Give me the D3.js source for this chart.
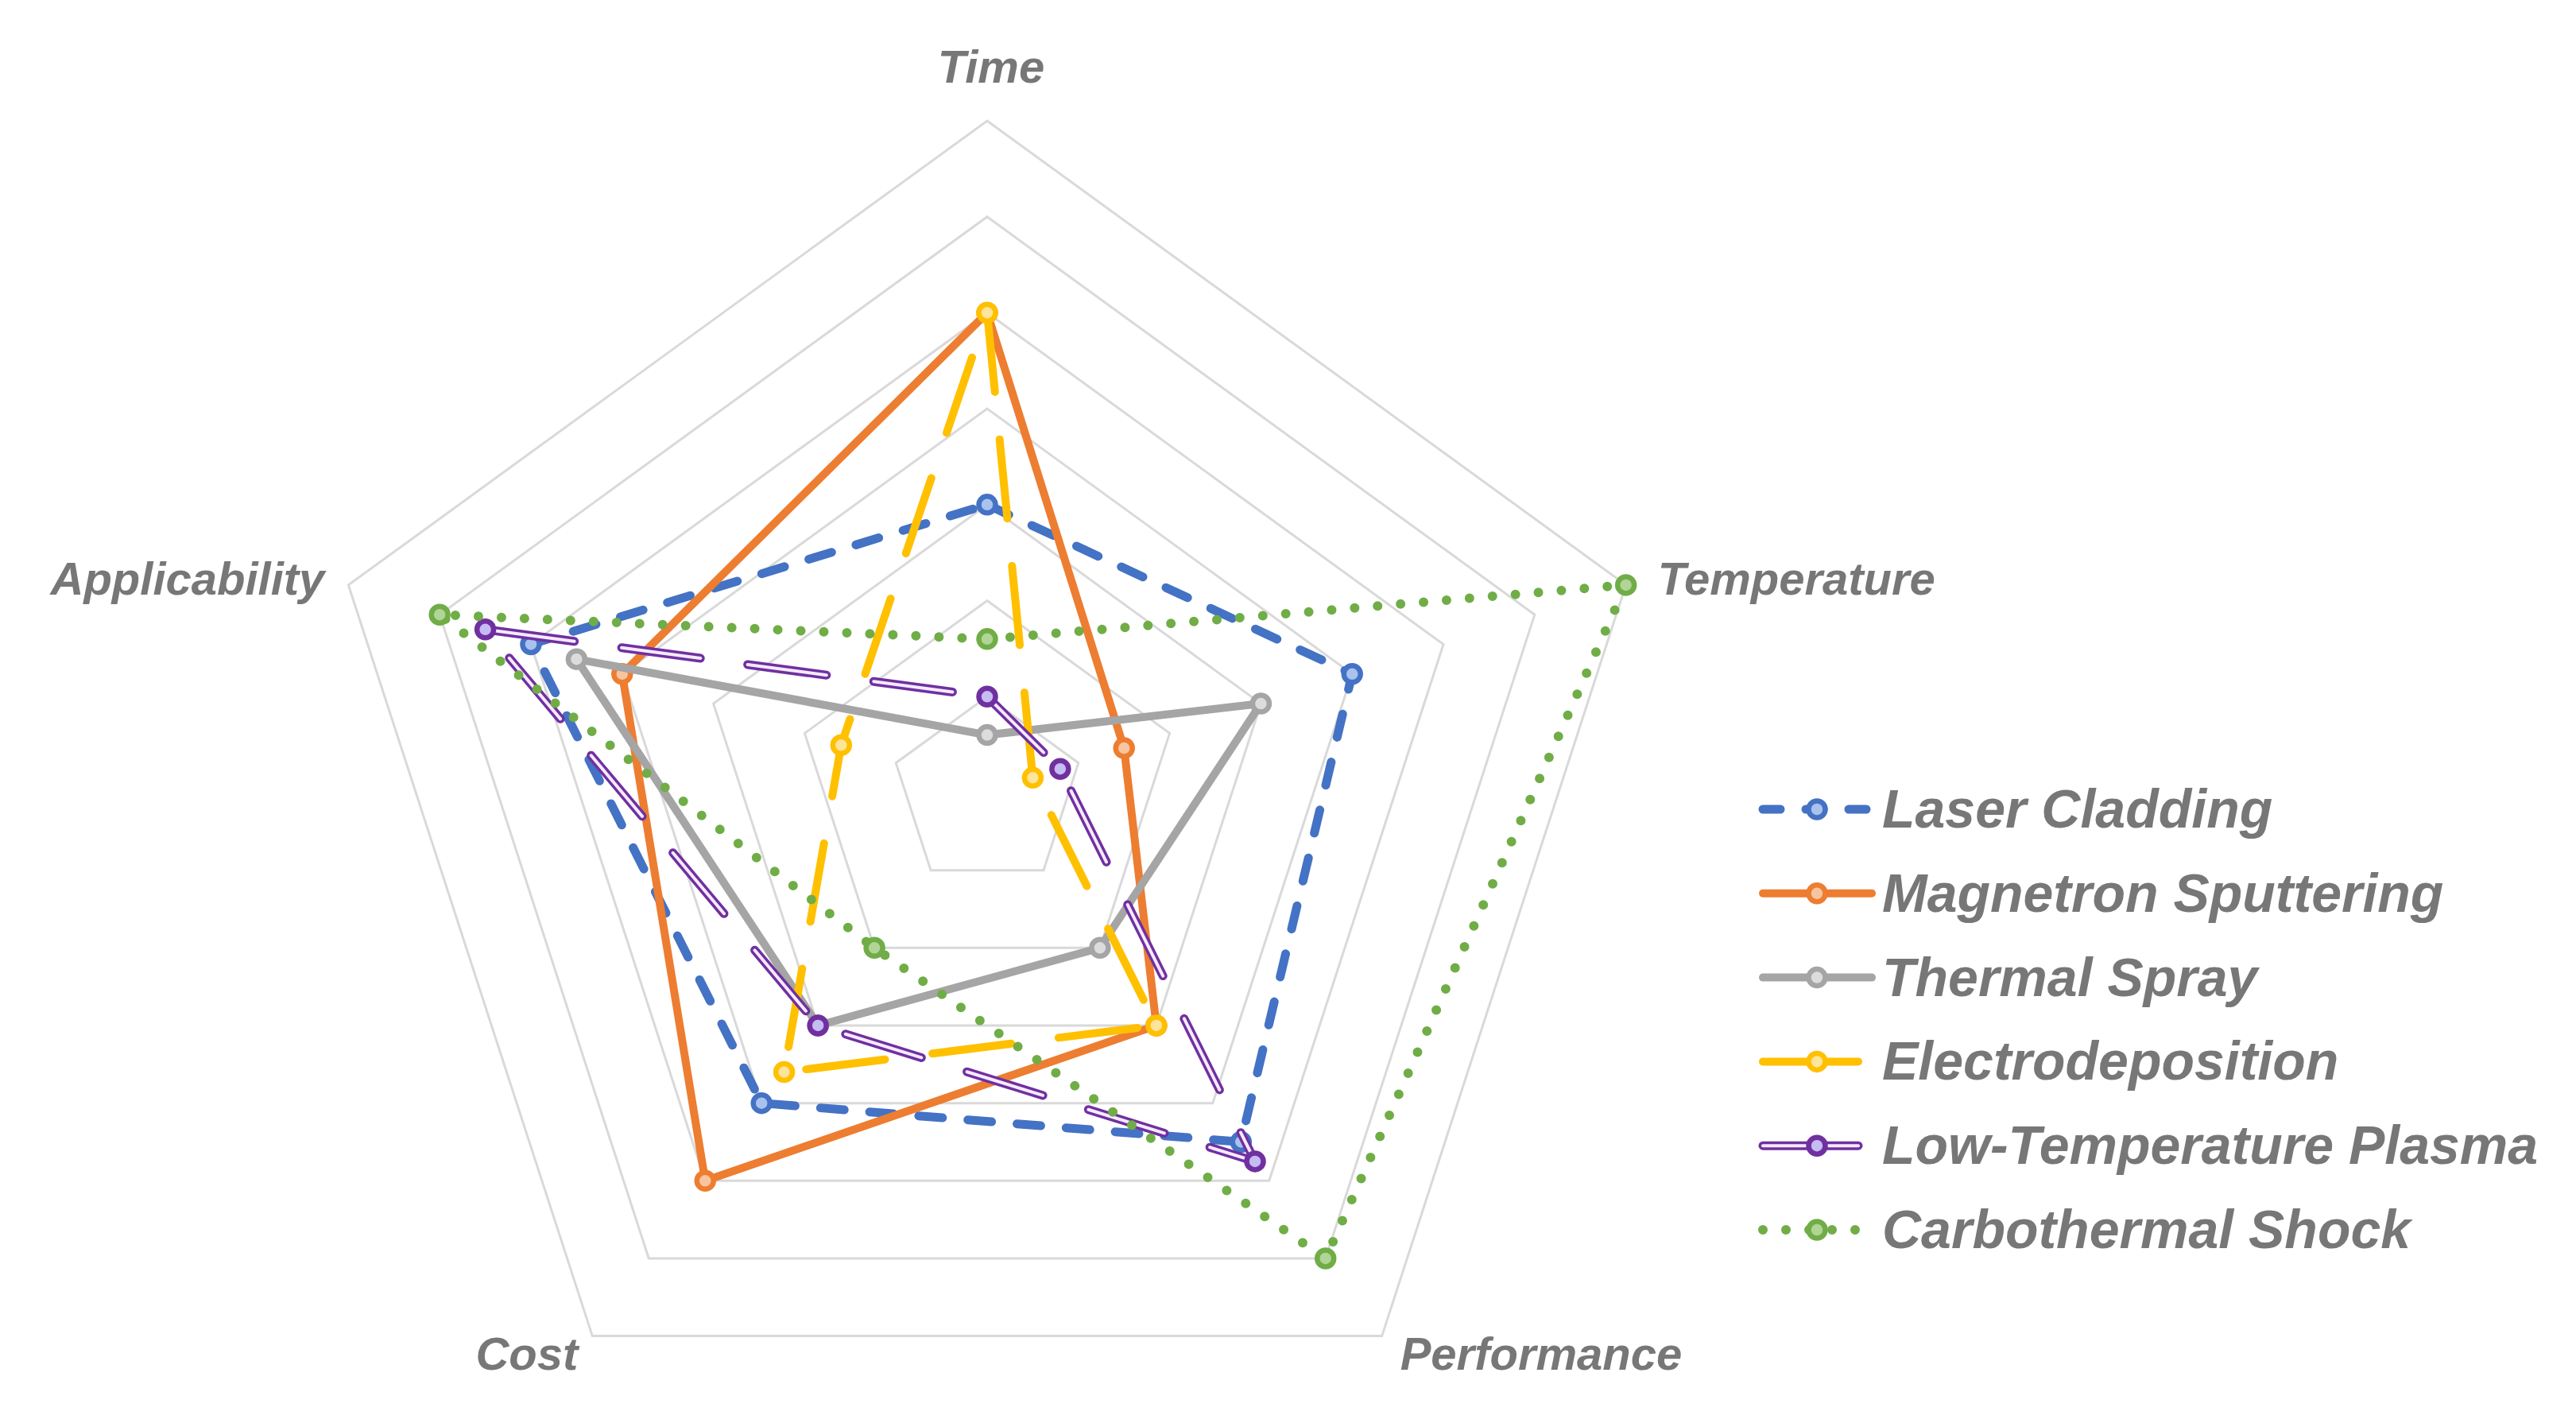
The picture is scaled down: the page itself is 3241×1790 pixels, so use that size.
<!DOCTYPE html>
<html>
<head>
<meta charset="utf-8">
<script src="https://cdn.jsdelivr.net/npm/d3@7"></script>
<style>
  body { margin: 0; background: #fff; }
  text { font-family: "Liberation Sans", Arial, sans-serif; font-weight: bold; font-style: italic; fill: #777; }
</style>
</head>
<body>
<div id="chart"></div>
<script>
// Axes (clockwise from the top) and series values
const axes = ['Time', 'Temperature', 'Performance', 'Cost', 'Applicability'];
const seriesNames = ['Laser Cladding', 'Magnetron Sputtering', 'Thermal Spray',
                     'Electrodeposition', 'Low-Temperature Plasma', 'Carbothermal Shock'];
const laserCladding   = [3, 4, 4.5, 4, 5];
const magnetron       = [5, 1.5, 3, 5, 4];
const thermalSpray    = [0.6, 3, 2, 3, 4.5];
const electrodepo     = [5, 0.5, 3, 3.6, 1.6];
const lowTempPlasma   = [1, 0.8, 4.75, 3, 5.5];
const carbothermal    = [1.6, 7, 6, 2, 6];
const ringValues = [1, 2, 3, 4, 5, 6, 7];

const seriesValues = [laserCladding, magnetron, thermalSpray, electrodepo, lowTempPlasma, carbothermal];

// Styles per series (Excel-like)
const styles = [
    { color: '#4472C4', fill: '#a9c2ee', width: 11, dash: '30 32' },
    { color: '#ED7D31', fill: '#f8c4a0', width: 10, dash: null },
    { color: '#A5A5A5', fill: '#dcdcdc', width: 10, dash: null },
    { color: '#FFC000', fill: '#ffe49a', width: 10, dash: '100 60' },
    { color: '#7030A0', fill: '#c4bcf2', width: 11, dash: '100 60', double: '#f5eaff' },
    { color: '#70AD47', fill: '#b0d596', width: 12, dash: '0 29' }
];

const width = 3241, height = 1790;
const cx = 1242, cy = 997, radius = 845;

const svg = d3.select('#chart')
    .append('svg')
    .attr('width', width)
    .attr('height', height)
    .attr('viewBox', `0 0 ${width} ${height}`);

svg.append('rect').attr('width', width).attr('height', height).attr('fill', '#fff');

const g = svg.append('g').attr('transform', `translate(${cx},${cy})`);

const rScale = d3.scaleLinear().domain([0, 7]).range([0, radius]);
const angle = i => i * 2 * Math.PI / axes.length;
const px = (v, i) => rScale(v) * Math.sin(angle(i));
const py = (v, i) => -rScale(v) * Math.cos(angle(i));

const radial = d3.lineRadial()
    .angle((d, i) => angle(i))
    .radius(d => rScale(d))
    .curve(d3.curveLinearClosed);

// Grid rings
g.append('g').selectAll('path')
    .data(ringValues)
    .join('path')
    .attr('d', v => radial(axes.map(() => v)))
    .attr('fill', 'none')
    .attr('stroke', '#d9d9d9')
    .attr('stroke-width', 3);

// Axis labels
g.append('g').selectAll('text')
    .data(axes)
    .join('text')
    .attr('font-size', 58)
    .attr('text-anchor', (d, i) => {
        const s = Math.sin(angle(i));
        return Math.abs(s) < 0.1 ? 'middle' : (s > 0 ? 'start' : 'end');
    })
    .attr('x', (d, i) => {
        const s = Math.sin(angle(i));
        const x = px(7, i);
        if (Math.abs(s) < 0.1) return x + 5;
        if (Math.cos(angle(i)) < 0) return x + (s > 0 ? 23 : -18);
        return x + (s > 0 ? 40 : -30);
    })
    .attr('y', (d, i) => {
        const c = Math.cos(angle(i));
        const y = py(7, i);
        if (c > 0.9) return y - 48;
        if (c < 0) return y + 42;
        return y + 12;
    })
    .text(d => d);

// Series lines
const seriesG = g.append('g');
seriesValues.forEach((vals, si) => {
    const st = styles[si];
    const grp = seriesG.append('g');
    grp.append('path')
        .attr('d', radial(vals))
        .attr('fill', 'none')
        .attr('stroke', st.color)
        .attr('stroke-width', st.width)
        .attr('stroke-linecap', 'round')
        .attr('stroke-linejoin', 'round')
        .attr('stroke-dasharray', st.dash);
    if (st.double) {
        grp.append('path')
            .attr('d', radial(vals))
            .attr('fill', 'none')
            .attr('stroke', st.double)
            .attr('stroke-width', 4)
            .attr('stroke-linecap', 'round')
            .attr('stroke-linejoin', 'round')
            .attr('stroke-dasharray', st.dash);
    }
    grp.selectAll('circle')
        .data(vals)
        .join('circle')
        .attr('cx', (d, i) => px(d, i))
        .attr('cy', (d, i) => py(d, i))
        .attr('r', 10.5)
        .attr('fill', st.fill)
        .attr('stroke', st.color)
        .attr('stroke-width', 6.5);
});

// Legend
const legend = svg.append('g').attr('transform', 'translate(2218,1018)');
const rowGap = 105.8;
seriesNames.forEach((name, si) => {
    const st = styles[si];
    const row = legend.append('g').attr('transform', `translate(0,${si * rowGap})`);
    const x2 = (si === 3 || si === 4) ? 120 : 137;
    row.append('line')
        .attr('x1', 0).attr('x2', x2)
        .attr('stroke', st.color)
        .attr('stroke-width', st.width)
        .attr('stroke-linecap', 'round')
        .attr('stroke-dasharray', si === 0 ? '22 32' : (si === 3 || si === 4 ? null : st.dash));
    if (st.double) {
        row.append('line')
            .attr('x1', 0).attr('x2', x2)
            .attr('stroke', st.double)
            .attr('stroke-width', 4)
            .attr('stroke-linecap', 'round');
    }
    row.append('circle')
        .attr('cx', 68)
        .attr('r', 10.5)
        .attr('fill', st.fill)
        .attr('stroke', st.color)
        .attr('stroke-width', 6.5);
    row.append('text')
        .attr('x', 150)
        .attr('y', 23)
        .attr('font-size', 68)
        .text(name);
});
</script>
</body>
</html>
